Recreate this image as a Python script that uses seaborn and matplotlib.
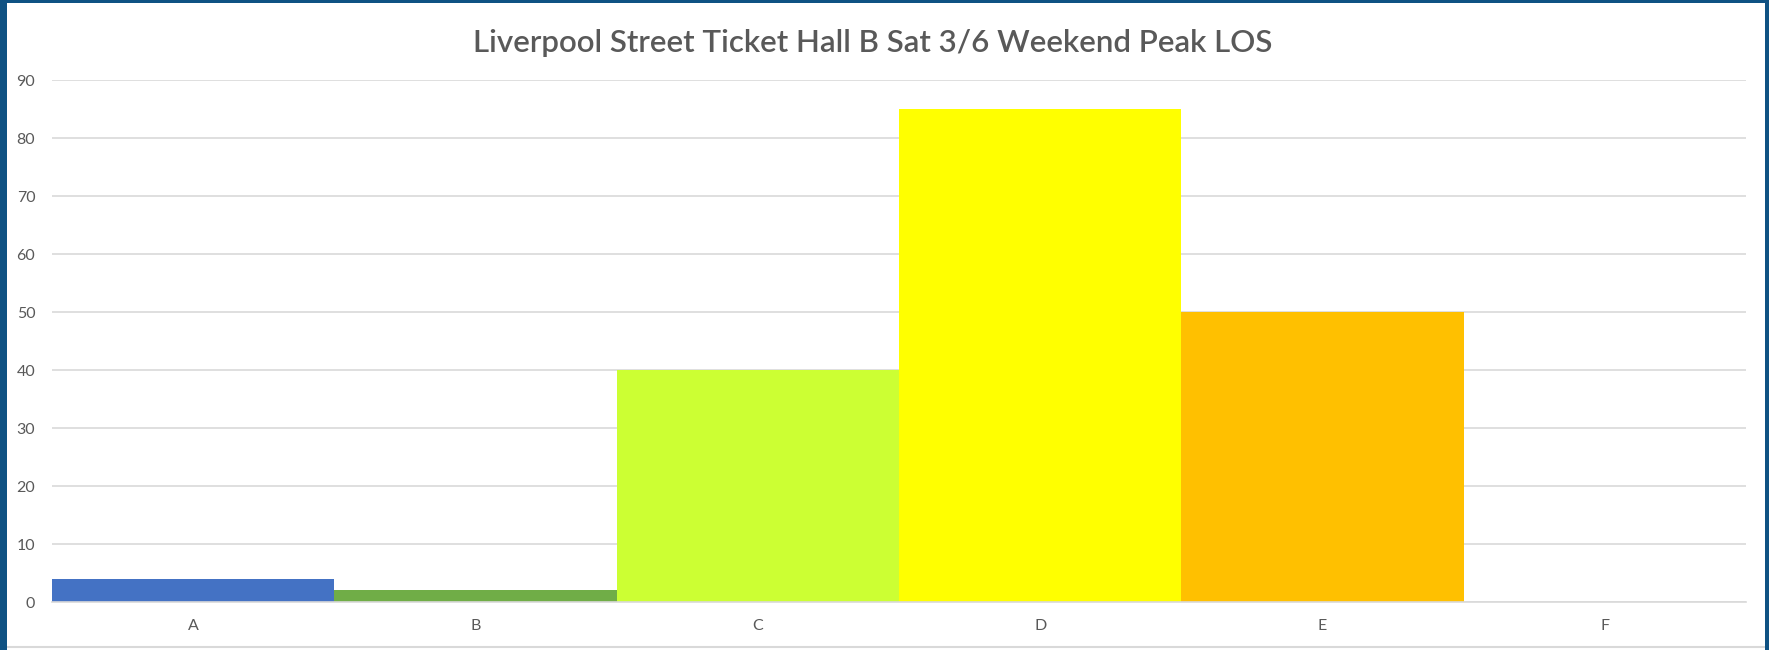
import matplotlib
matplotlib.use("Agg")
import matplotlib.pyplot as plt
from matplotlib.patches import Rectangle
from matplotlib.lines import Line2D
import seaborn as sns
import pandas as pd

categories = ["A", "B", "C", "D", "E", "F"]
values = [4, 2, 40, 85, 50, 0]
bar_colors = ["#4472C4", "#70AD47", "#CCFF33", "#FFFF00", "#FFC000", "#FF0000"]
y_ticks = [0, 10, 20, 30, 40, 50, 60, 70, 80, 90]
title = "Liverpool Street Ticket Hall B Sat 3/6 Weekend Peak LOS"

sns.set_theme(style="white")
plt.rcParams["font.family"] = ["Lato", "DejaVu Sans"]

W, H = 1769, 650
fig = plt.figure(figsize=(W / 100, H / 100), dpi=100, facecolor="white")
ax = fig.add_axes([52 / W, 1 - 602 / H, (1746 - 52) / W, (602 - 80) / H])

df = pd.DataFrame({"cat": categories, "val": values})
sns.barplot(data=df, x="cat", y="val", hue="cat", palette=bar_colors,
            width=1.0, legend=False, ax=ax, saturation=1, linewidth=0)

ax.set_ylim(0, 90)
ax.set_xlim(-0.5, 5.5)
ax.set_yticks(y_ticks)
ax.set_xlabel("")
ax.set_ylabel("")
ax.yaxis.grid(True, color="#D9D9D9", linewidth=1.2)
ax.set_axisbelow(True)
for s in ["top", "right", "left"]:
    ax.spines[s].set_visible(False)
ax.spines["bottom"].set_color("#D9D9D9")
ax.spines["bottom"].set_linewidth(1.2)
ax.tick_params(axis="y", length=0, pad=12, labelsize=11.5, labelcolor="#595959")
ax.tick_params(axis="x", length=0, pad=12, labelsize=11.5, labelcolor="#595959")

fig.text(873 / W, 1 - 43 / H, title, ha="center", va="center",
         fontsize=22.5, fontweight="semibold", color="#595959")

border = "#0F5283"
fig.patches.append(Rectangle((0, 0), 7 / W, 1, transform=fig.transFigure,
                             facecolor=border, edgecolor="none", zorder=10))
fig.patches.append(Rectangle((1765 / W, 0), 4 / W, 1, transform=fig.transFigure,
                             facecolor=border, edgecolor="none", zorder=10))
fig.patches.append(Rectangle((0, 1 - 3 / H), 1, 3 / H, transform=fig.transFigure,
                             facecolor=border, edgecolor="none", zorder=10))
fig.lines.append(Line2D([7 / W, 1765 / W], [1 - 647 / H, 1 - 647 / H],
                        transform=fig.transFigure, color="#D9D9D9", linewidth=1.5))

fig.savefig("out.png", dpi=100, facecolor="white")
